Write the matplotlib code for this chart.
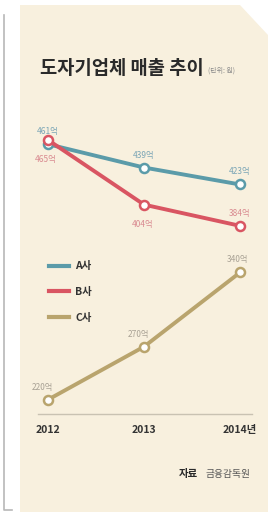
import matplotlib.pyplot as plt
from matplotlib.lines import Line2D
from matplotlib.patches import Polygon

plt.rcParams['font.family'] = ['Noto Sans CJK KR', 'DejaVu Sans']

years = [2012, 2013, 2014]
year_labels = ['2012', '2013', '2014년']
series_names = ['A사', 'B사', 'C사']
a_vals = [461, 439, 423]
b_vals = [465, 404, 384]
c_vals = [220, 270, 340]

line_cols = ['#5b9ba9', '#d95562', '#b9a46d']
text_cols = ['#7aa5b6', '#d98a90', '#a9a295']
BG = '#f8f0de'

W, H = 278, 518
fig = plt.figure(figsize=(W / 100, H / 100), dpi=100)
fig.patch.set_facecolor('white')

# overlay in pixel coords for the decoration
bg = fig.add_axes([0, 0, 1, 1])
bg.set_xlim(0, W)
bg.set_ylim(H, 0)
bg.axis('off')
bg.add_patch(Polygon([[20, 5], [240, 5], [268, 35], [268, 512], [20, 512]],
                     closed=True, facecolor=BG, edgecolor='none'))
bg.plot([4, 4, 12], [15, 510, 510], color='#b8b8b8', lw=1.2)
bg.plot([38, 252], [414, 414], color='#c9c2b2', lw=1.0)
bg.text(40, 68, '도자기업체 매출 추이', fontsize=13.5, fontweight='bold',
        color='#2a2a2a', va='center', ha='left')
bg.text(208, 71, '(단위: 원)', fontsize=5, color='#8a8a8a', va='center', ha='left')
bg.text(198, 474, '자료', fontsize=7.5, fontweight='bold', color='#2a2a2a',
        va='center', ha='right')
bg.text(251, 474, '금융감독원', fontsize=7, color='#555555', va='center', ha='right')

# data axes: x 20..268 px, y 100..414 px
ax = fig.add_axes([20 / W, 1 - 414 / H, 248 / W, 314 / H])
ax.set_facecolor('none')
ax.set_xlim(2012 - 28 / 96, 2014 + 28 / 96)
ax.set_ylim(206.5, 502.7)
for s in ax.spines.values():
    s.set_visible(False)
ax.set_yticks([])
ax.set_xticks(years)
ax.set_xticklabels(year_labels, fontsize=7.5, fontweight='bold', color='#333333')
ax.tick_params(axis='x', length=0, pad=8)

for vals, lc in zip([a_vals, b_vals, c_vals], line_cols):
    ax.plot(years, vals, color=lc, lw=2.8, marker='o', ms=6.5,
            mfc='white', mec=lc, mew=1.8, solid_capstyle='round')

# value labels (offsets in points)
offs = {
    0: [(0, 9), (0, 9), (0, 9)],
    1: [(-2, -14), (-1, -14), (0, 9)],
    2: [(-4, 9), (-4, 9), (-2, 9)],
}
for i, vals in enumerate([a_vals, b_vals, c_vals]):
    for j, (x, v) in enumerate(zip(years, vals)):
        dx, dy = offs[i][j]
        ax.annotate(f'{v}억', (x, v), xytext=(dx, dy), textcoords='offset points',
                    ha='center', va='center', fontsize=6, color=text_cols[i])

handles = [Line2D([], [], color=c, lw=3) for c in line_cols]
leg = ax.legend(handles, series_names, loc='upper left',
                bbox_to_anchor=(20 / 248, (414 - 252) / 314), frameon=False,
                handlelength=1.9, handletextpad=0.6, labelspacing=1.5,
                prop={'size': 7.5, 'weight': 'bold'})
for t in leg.get_texts():
    t.set_color('#333333')

fig.savefig('out.png', dpi=100, facecolor='white')
